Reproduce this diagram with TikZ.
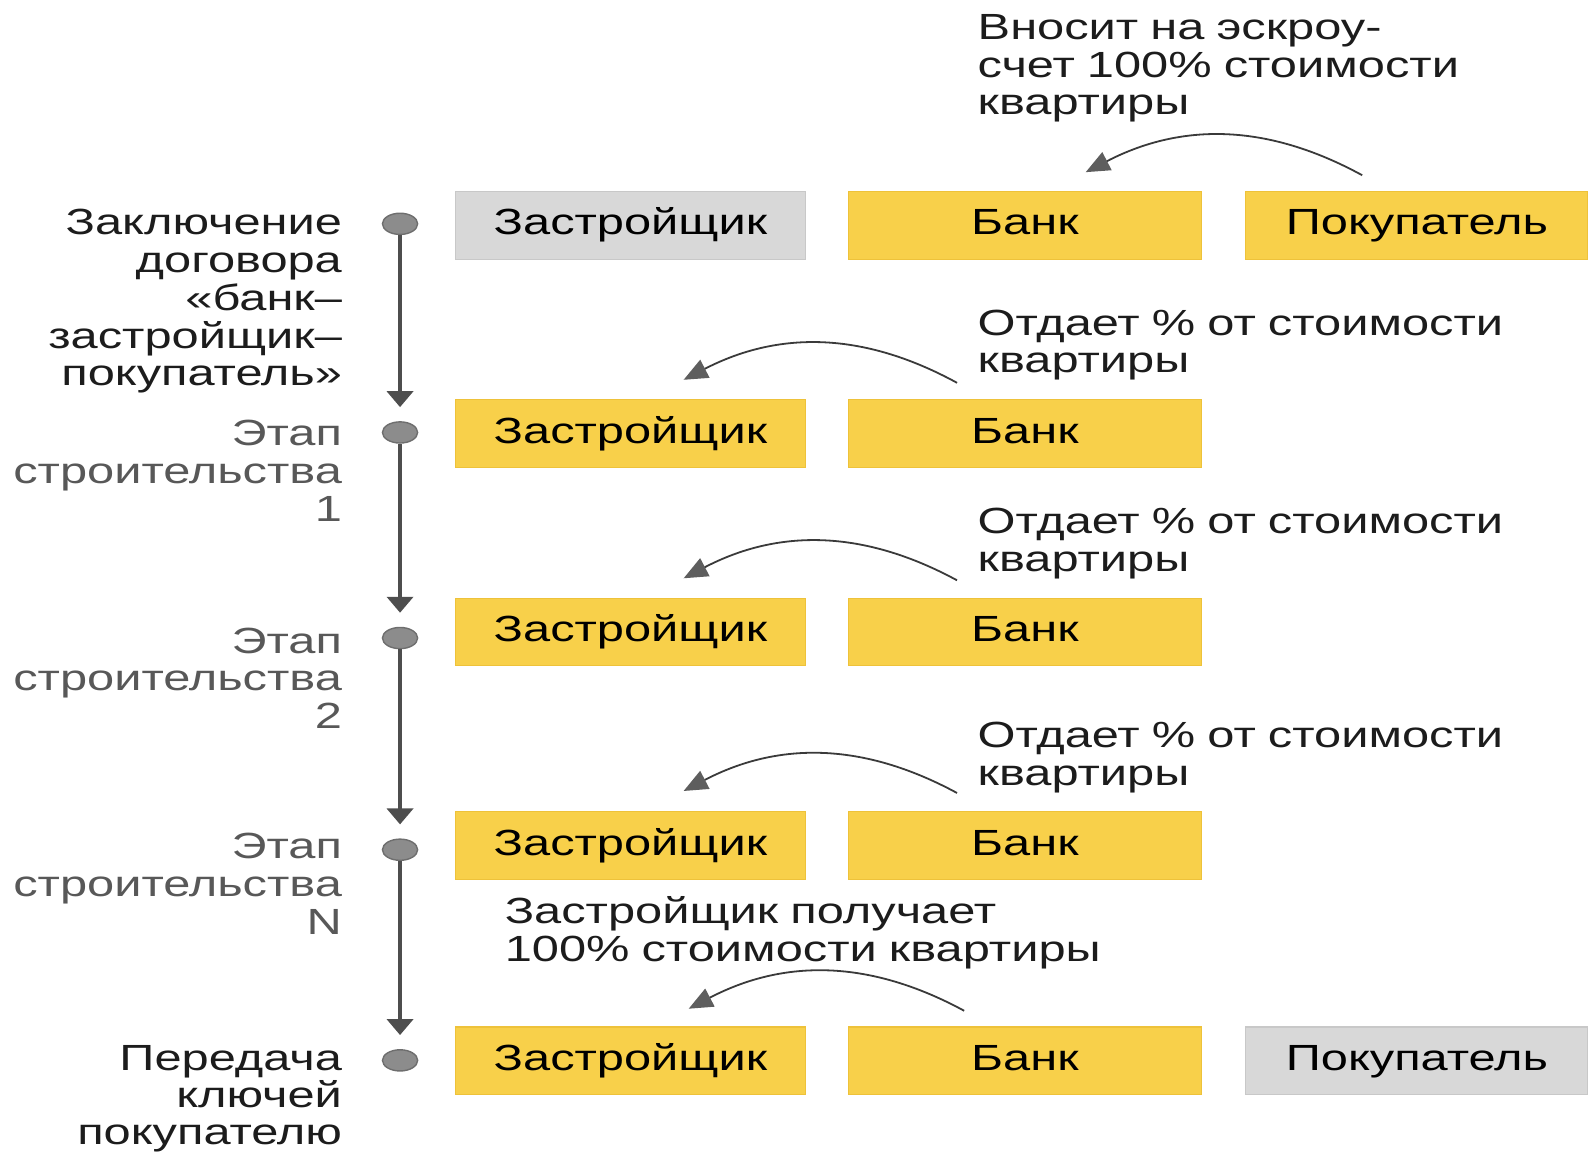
\documentclass[tikz,border=0pt]{standalone}
\usepackage{fontspec}
\setmainfont[FakeStretch=1.34]{Liberation Sans}
\usetikzlibrary{shapes.geometric,arrows.meta}
\definecolor{boxyellow}{HTML}{F8D04A}
\definecolor{boxyellowedge}{HTML}{EEC23A}
\definecolor{boxgray}{HTML}{D8D8D8}
\definecolor{boxgrayedge}{HTML}{C8C8C8}
\definecolor{txtdark}{HTML}{1C1C1C}
\definecolor{txtgray}{HTML}{585858}
\definecolor{dotfill}{HTML}{8C8C8C}
\definecolor{dotedge}{HTML}{6E6E6E}
\definecolor{vlinecol}{HTML}{4E4E4E}
\definecolor{clinecol}{HTML}{3A3A3A}
\definecolor{cheadcol}{HTML}{5E5E5E}
\begin{document}
\begin{tikzpicture}[x=0.50638pt,y=-0.50638pt,
  txt/.style={inner sep=0pt,font=\fontsize{18.2}{18.86}\selectfont,text=txtdark},
  leftlbl/.style={txt,anchor=base east,text width=175pt,align=right},
  stagelbl/.style={leftlbl,text=txtgray},
  arrlbl/.style={txt,anchor=base west,text width=300pt,align=left},
  boxbase/.style={txt,minimum height=33.8pt,text height=13.6pt,text depth=4pt,text=black},
  ybox/.style={boxbase,fill=boxyellow,draw=boxyellowedge,line width=0.6pt},
  gbox/.style={boxbase,fill=boxgray,draw=boxgrayedge,line width=0.6pt},
  colA/.style={minimum width=174.7pt},
  colB/.style={minimum width=176.2pt},
  colC/.style={minimum width=171.2pt},
  dot/.style={ellipse,minimum width=17.6pt,minimum height=10.6pt,inner sep=0pt,fill=dotfill,draw=dotedge,line width=0.7pt},
  vconn/.style={draw=vlinecol,line width=2pt,shorten >=7pt,-{Triangle[width=13pt,length=8pt,color=vlinecol]}},
  carrow/.style={draw=clinecol,line width=0.9pt,-{Triangle[width=10pt,length=12pt,color=cheadcol]}}
]
\useasboundingbox (0,0) rectangle (1568,1138.5);

% timeline dots
\node[dot] (c1) at (395,221) {};
\node[dot] (c2) at (395,427) {};
\node[dot] (c3) at (395,630) {};
\node[dot] (c4) at (395,839) {};
\node[dot] (c5) at (395,1047) {};
\draw[vconn] (c1.south) -- (c2.north);
\draw[vconn] (c2.south) -- (c3.north);
\draw[vconn] (c3.south) -- (c4.north);
\draw[vconn] (c4.south) -- (c5.north);

% left labels
\node[leftlbl] (l1) at (338,232) {Заключение\\договора\\«банк–\\застройщик–\\покупатель»};
\node[stagelbl] (l2) at (338,440) {Этап\\строительства\\1};
\node[stagelbl] (l3) at (338,645) {Этап\\строительства\\2};
\node[stagelbl] (l4) at (338,848) {Этап\\строительства\\N};
\node[leftlbl,font=\fontsize{18.2}{18.48}\selectfont] (l5) at (338,1057) {Передача\\ключей\\покупателю};

% boxes row 1
\node[gbox,colA] (z1) at (622.5,222.5) {Застройщик};
\node[ybox,colB] (b1) at (1012,222.5) {Банк};
\node[ybox,colC] (p1) at (1399,222.5) {Покупатель};
% row 2
\node[ybox,colA] (z2) at (622.5,428) {Застройщик};
\node[ybox,colB] (b2) at (1012,428) {Банк};
% row 3
\node[ybox,colA] (z3) at (622.5,624) {Застройщик};
\node[ybox,colB] (b3) at (1012,624) {Банк};
% row 4
\node[ybox,colA] (z4) at (622.5,835) {Застройщик};
\node[ybox,colB] (b4) at (1012,835) {Банк};
% row 5
\node[ybox,colA] (z5) at (622.5,1047.5) {Застройщик};
\node[ybox,colB] (b5) at (1012,1047.5) {Банк};
\node[gbox,colC] (p5) at (1399,1047.5) {Покупатель};

% arrow labels
\node[arrlbl] (t1) at (965,39) {Вносит на эскроу-\\счет 100\% стоимости\\квартиры};
\node[arrlbl] (t2) at (965,331) {Отдает \% от стоимости\\квартиры};
\node[arrlbl] (t3) at (965,527) {Отдает \% от стоимости\\квартиры};
\node[arrlbl] (t4) at (965,738) {Отдает \% от стоимости\\квартиры};
\node[arrlbl] (t5) at (498,912) {Застройщик получает\\100\% стоимости квартиры};

% curved arrows
\coordinate (s1) at (1345,173); \coordinate (e1) at (1072,170);
\coordinate (s2) at (945,378);  \coordinate (e2) at (675,375);
\coordinate (s3) at (945,573);  \coordinate (e3) at (675,571);
\coordinate (s4) at (945,783);  \coordinate (e4) at (675,781);
\coordinate (s5) at (952,998);  \coordinate (e5) at (680,996);
\draw[carrow] (s1) to[bend right=28] (e1);
\draw[carrow] (s2) to[bend right=28] (e2);
\draw[carrow] (s3) to[bend right=28] (e3);
\draw[carrow] (s4) to[bend right=28] (e4);
\draw[carrow] (s5) to[bend right=28] (e5);
\end{tikzpicture}
\end{document}
